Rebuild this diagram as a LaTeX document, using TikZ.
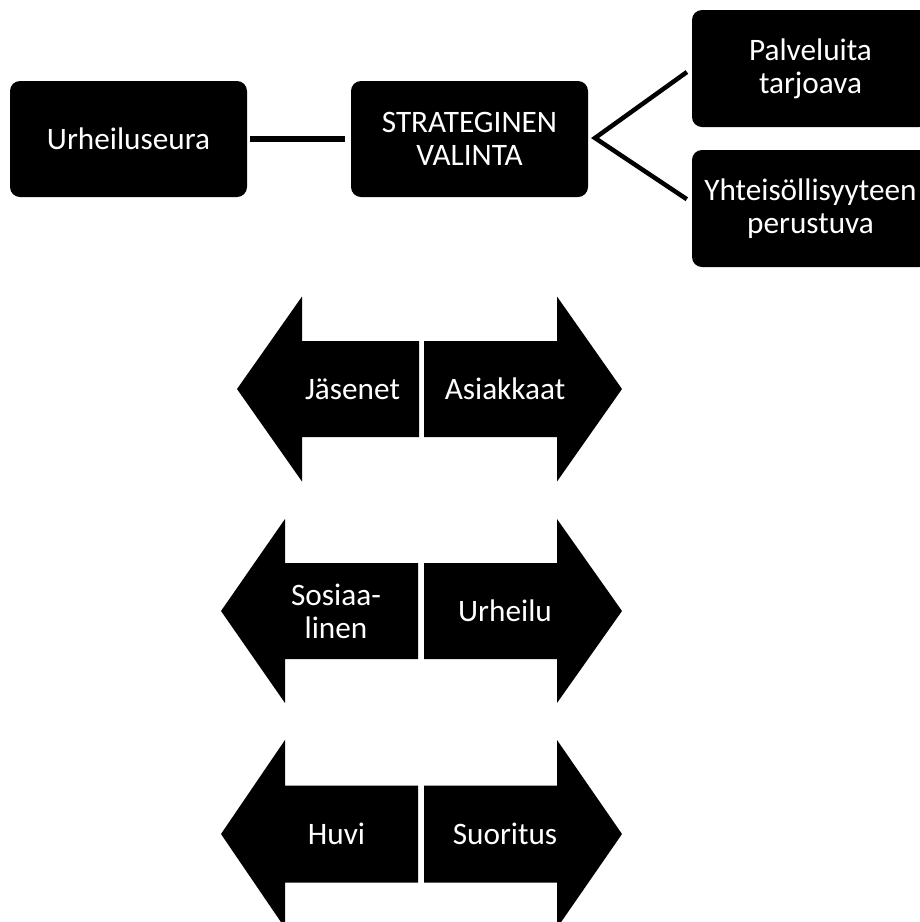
\documentclass[tikz,border=0pt]{standalone}
\usepackage{fontspec}
\setmainfont{Carlito}
\begin{document}
\begin{tikzpicture}[x=1pt,y=-1pt,
  box/.style={fill=black,rounded corners=10pt,text=white,align=center,
    inner sep=0pt,minimum width=237pt,minimum height=116pt,
    font=\fontsize{31.25}{33}\selectfont},
  wtext/.style={text=white,align=center,inner sep=0pt,
    font=\fontsize{31.25}{33}\selectfont},
  conn/.style={draw=black,line width=6.5pt},
  vconn/.style={draw=black,line width=4.5pt,line join=miter}]
\useasboundingbox (0,0) rectangle (920,922);
\clip (0,0) rectangle (920,922);

% top row: club, strategic choice and the two alternatives
\node[box] (club) at (128.5,139) {Urheiluseura};
\node[box] (choice) at (469.5,139) {STRATEGINEN\\VALINTA};
\node[box,minimum height=117pt] (service) at (810.5,68.5) {Palveluita\\tarjoava};
\node[box,minimum height=117pt] (community) at (810.5,208.5) {Yhteisöllisyyteen\\perustuva};

\draw[conn,shorten <=2.5pt,shorten >=5.5pt] (club.east) -- (choice.west);
\coordinate (fork) at (595,138);
\draw[vconn,shorten <=6pt,shorten >=6pt]
  (service.west) -- (fork) -- ([yshift=6pt]community.west);

% double arrows: left half and right half of each pair
\fill (237,389) -- (302,296.5) -- (302,341) -- (419,341) -- (419,437) -- (302,437) -- (302,481.5) -- cycle;
\fill (424,341) -- (557,341) -- (557,296.5) -- (622,389) -- (557,481.5) -- (557,437) -- (424,437) -- cycle;
\node[wtext] (members) at (352.5,389) {Jäsenet};
\node[wtext] (customers) at (505,389) {Asiakkaat};

\fill (221,611) -- (285,519) -- (285,563) -- (418,563) -- (418,659) -- (285,659) -- (285,703) -- cycle;
\fill (424,563) -- (557,563) -- (557,519) -- (622,611) -- (557,703) -- (557,659) -- (424,659) -- cycle;
\node[wtext] (social) at (336,611) {Sosiaa-\\linen};
\node[wtext] (sport) at (505,611) {Urheilu};

\fill (221,834) -- (285,740) -- (285,785.5) -- (418,785.5) -- (418,882.5) -- (285,882.5) -- (285,928) -- cycle;
\fill (424,785.5) -- (557,785.5) -- (557,740) -- (622,834) -- (557,928) -- (557,882.5) -- (424,882.5) -- cycle;
\node[wtext] (leisure) at (336.5,834) {Huvi};
\node[wtext] (performance) at (505,834) {Suoritus};
\end{tikzpicture}
\end{document}
